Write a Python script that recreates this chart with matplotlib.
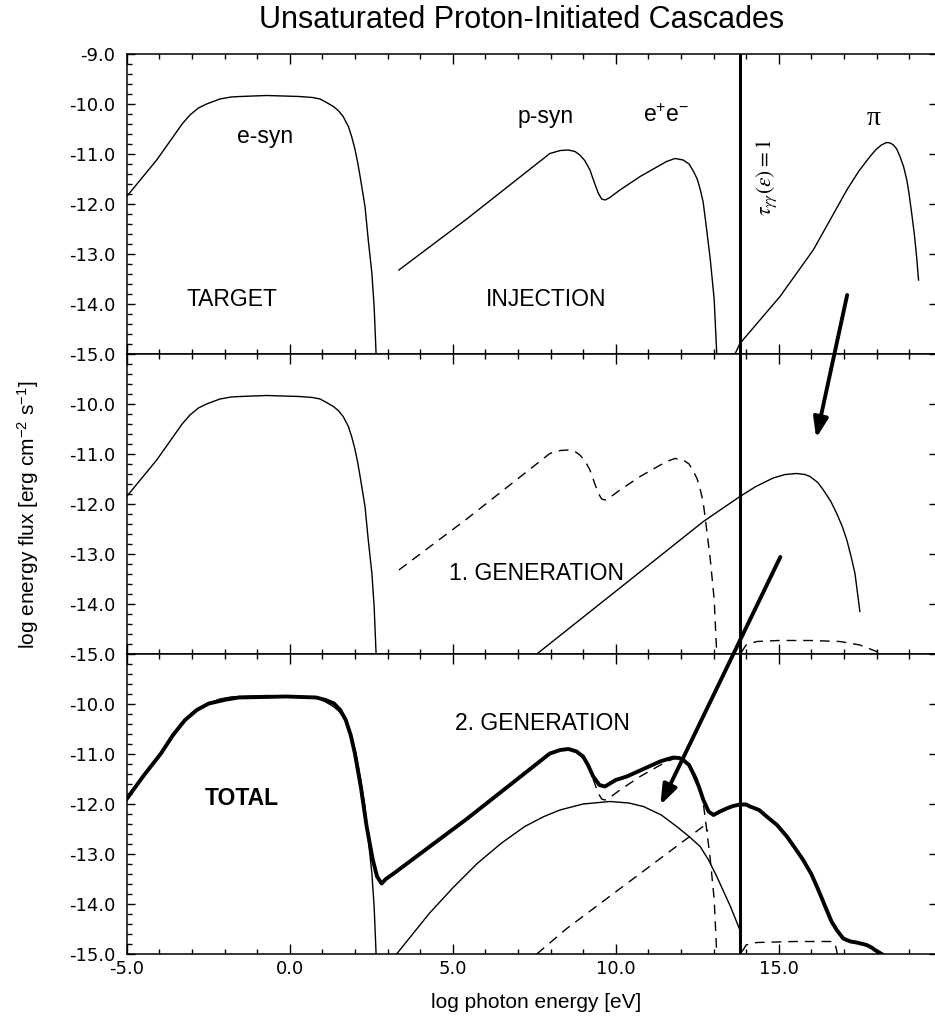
import matplotlib
matplotlib.use('Agg')
import matplotlib.pyplot as plt
from matplotlib.patches import ConnectionPatch
from matplotlib.ticker import MultipleLocator, FuncFormatter

plt.rcParams['font.family'] = ['Liberation Sans', 'DejaVu Sans']
plt.rcParams['mathtext.fontset'] = 'custom'
plt.rcParams['mathtext.rm'] = 'Liberation Sans'
plt.rcParams['mathtext.it'] = 'Liberation Sans:italic'
plt.rcParams['axes.unicode_minus'] = False

# electron synchrotron target photons (same in every panel)
esyn_x = [-5.0, -4.08, -3.57, -3.3, -3.06, -2.8, -2.55, -2.14, -1.8, -1.52, -0.71, 0.3,
          0.7, 0.93, 1.13, 1.34, 1.49, 1.64, 1.80, 1.90, 2.0, 2.08, 2.16, 2.31, 2.41,
          2.52, 2.59, 2.65]
esyn_y = [-11.85, -11.12, -10.65, -10.4, -10.22, -10.08, -10.0, -9.9, -9.86, -9.85, -9.83,
          -9.85, -9.87, -9.9, -9.97, -10.05, -10.13, -10.25, -10.45, -10.65, -10.9, -11.15,
          -11.45, -12.05, -12.72, -13.38, -14.05, -15.0]

# injection: proton synchrotron + pair production
inj_x = [3.35, 5.43, 7.98, 8.3, 8.55, 8.75, 8.9, 9.05, 9.21, 9.35, 9.47, 9.57, 9.67, 9.8,
         10.13, 10.75, 11.56, 11.82, 12.07, 12.25, 12.38, 12.5, 12.59, 12.68, 12.75, 12.9,
         13.02, 13.1]
inj_y = [-13.32, -12.3, -10.99, -10.93, -10.92, -10.95, -11.02, -11.13, -11.32, -11.58,
         -11.79, -11.9, -11.92, -11.88, -11.72, -11.45, -11.15, -11.09, -11.12, -11.2,
         -11.34, -11.5, -11.7, -11.95, -12.3, -13.1, -13.9, -15.0]

# pion decay injection
pi_x = [13.66, 13.81, 15.04, 16.06, 17.09, 17.45, 17.8, 18.0, 18.15, 18.31, 18.42, 18.52,
        18.62, 18.72, 18.83, 18.93, 19.0, 19.08, 19.16, 19.23, 19.29]
pi_y = [-15.0, -14.79, -13.85, -12.92, -11.72, -11.35, -11.05, -10.9, -10.82, -10.77,
        -10.78, -10.82, -10.9, -11.05, -11.25, -11.52, -11.8, -12.19, -12.6, -13.05, -13.52]

# 1. generation
gen1_x = [7.58, 10.34, 12.69, 13.81, 14.3, 14.83, 15.2, 15.55, 15.8, 15.96, 16.2, 16.37,
          16.6, 16.78, 16.95, 17.09, 17.22, 17.34, 17.49]
gen1_y = [-15.0, -13.57, -12.35, -11.85, -11.65, -11.48, -11.41, -11.39, -11.41, -11.45,
          -11.57, -11.72, -11.95, -12.19, -12.45, -12.72, -13.05, -13.39, -14.15]
pair1_x = [13.85, 14.0, 14.33, 15.0, 16.0, 16.88, 17.49, 18.0, 18.1]
pair1_y = [-14.97, -14.82, -14.75, -14.73, -14.73, -14.75, -14.82, -14.95, -15.0]

# 2. generation
gen1abs_x = [7.58, 8.5, 12.74, 12.82]
gen1abs_y = [-15.0, -14.49, -12.42, -12.55]
gen2_x = [3.28, 4.28, 5.0, 5.75, 6.5, 7.21, 7.8, 8.29, 9.0, 9.82, 10.4, 10.85, 11.4, 11.87,
          12.25, 12.59, 12.85, 13.1, 13.52, 13.81, 13.83]
gen2_y = [-15.0, -14.19, -13.68, -13.19, -12.78, -12.45, -12.25, -12.12, -12.0, -11.95,
          -11.98, -12.05, -12.22, -12.45, -12.65, -12.85, -13.12, -13.45, -14.05, -14.52,
          -15.0]
pair2_x = [13.88, 14.0, 14.33, 15.5, 16.68, 16.75, 16.8]
pair2_y = [-14.95, -14.82, -14.77, -14.75, -14.75, -14.85, -15.0]

total_x = [-5.0, -4.5, -3.95, -3.58, -3.21, -2.85, -2.48, -1.94, -1.57, -0.11, 0.81, 1.1,
           1.36, 1.55, 1.72, 1.87, 2.0, 2.18, 2.36, 2.55, 2.68, 2.82, 2.95, 3.19, 5.43,
           7.98, 8.3, 8.55, 8.8, 9.0, 9.15, 9.31, 9.5, 9.67, 10.0, 10.34, 11.36, 11.6,
           11.77, 11.95, 12.07, 12.25, 12.38, 12.55, 12.69, 12.85, 13.0, 13.2, 13.4, 13.6,
           13.81, 14.0, 14.12, 14.4, 14.63, 14.95, 15.25, 15.5, 15.75, 16.0, 16.17, 16.32,
           16.47, 16.62, 16.78, 16.98, 17.2, 17.39, 17.7, 17.85, 17.95, 18.16]
total_y = [-11.9, -11.45, -10.99, -10.62, -10.32, -10.12, -9.99, -9.91, -9.87, -9.85, -9.87,
           -9.92, -9.99, -10.12, -10.32, -10.62, -10.99, -11.65, -12.45, -13.12, -13.45,
           -13.59, -13.5, -13.39, -12.3, -10.99, -10.92, -10.9, -10.95, -11.05, -11.22,
           -11.45, -11.62, -11.65, -11.52, -11.45, -11.15, -11.1, -11.07, -11.08, -11.12,
           -11.22, -11.39, -11.65, -11.92, -12.15, -12.22, -12.15, -12.09, -12.04, -12.01,
           -12.01, -12.05, -12.12, -12.25, -12.42, -12.65, -12.88, -13.12, -13.4, -13.65,
           -13.88, -14.12, -14.35, -14.52, -14.69, -14.75, -14.77, -14.82, -14.87, -14.92,
           -15.0]

tau_one = 13.8

fig = plt.figure(figsize=(9.35, 10.18), dpi=100)
left = 126.7 / 935
width = 810 / 935
h = 300 / 1018
bottoms = [1 - 354 / 1018, 1 - 654 / 1018, 1 - 954 / 1018]
axes = [fig.add_axes([left, b, width, h]) for b in bottoms]

thin = dict(color='black', lw=1.0)
dash = dict(color='black', lw=1.0, ls=(0, (7, 5)))


def ylab(v, pos, top):
    if v > -9.05 and not top:
        return ''
    return '%.1f' % v


for i, ax in enumerate(axes):
    ax.set_xlim(-5, -5 + 810 / 32.6)
    ax.set_ylim(-15, -9)
    ax.xaxis.set_major_locator(MultipleLocator(5))
    ax.xaxis.set_minor_locator(MultipleLocator(1))
    ax.yaxis.set_major_locator(MultipleLocator(1))
    ax.yaxis.set_minor_locator(MultipleLocator(0.2))
    ax.tick_params(which='both', direction='in', top=True, right=True, width=1.0)
    ax.tick_params(axis='x', which='major', length=7.2, pad=4)
    ax.tick_params(axis='x', which='minor', length=3.6)
    ax.tick_params(axis='y', which='major', length=5.8, pad=8)
    ax.tick_params(axis='y', which='minor', length=3.6, right=False)
    ax.tick_params(labelsize=13)
    top = (i == 0)
    ax.yaxis.set_major_formatter(FuncFormatter(lambda v, p, t=top: ylab(v, p, t)))
    if i < 2:
        ax.tick_params(axis='x', labelbottom=False)
    else:
        ax.xaxis.set_major_formatter(FuncFormatter(lambda v, p: '%.1f' % (0.0 if abs(v) < 1e-9 else v)))
    for s in ax.spines.values():
        s.set_linewidth(1.1)
    ax.axvline(tau_one, color='black', lw=2.2)
    ax.plot(esyn_x, esyn_y, **thin)

for ax in axes:
    for lab in ax.get_xticklabels() + ax.get_yticklabels():
        lab.set_family('DejaVu Sans')

ax1, ax2, ax3 = axes

# top: injection
ax1.plot(inj_x, inj_y, **thin)
ax1.plot(pi_x, pi_y, **thin)
ax1.text(-0.75, -10.66, 'e-syn', fontsize=16.5, ha='center', va='center')
ax1.text(-1.78, -13.92, 'TARGET', fontsize=16.5, ha='center', va='center')
ax1.text(7.86, -10.24, 'p-syn', fontsize=16.5, ha='center', va='center')
ax1.text(11.56, -10.22, r'e$^{+}$e$^{-}$', fontsize=16.5, ha='center', va='center')
ax1.text(7.88, -13.92, 'INJECTION', fontsize=16.5, ha='center', va='center')
ax1.text(17.9, -10.29, 'π', fontsize=20, family='Liberation Serif', ha='center', va='center')
ax1.text(14.64, -11.46, r'$\tau_{\gamma\gamma}(\varepsilon)=1$', fontsize=15.5, rotation=90,
         ha='center', va='center', math_fontfamily='stix')

# middle: 1. generation
ax2.plot(inj_x, inj_y, **dash)
ax2.plot(gen1_x, gen1_y, **thin)
ax2.plot(pair1_x, pair1_y, **dash)
ax2.text(7.58, -13.39, '1. GENERATION', fontsize=16.5, ha='center', va='center')

# bottom: 2. generation and total
ax3.plot(inj_x, inj_y, **dash)
ax3.plot(gen1abs_x, gen1abs_y, **dash)
ax3.plot(gen2_x, gen2_y, **thin)
ax3.plot(pair2_x, pair2_y, **dash)
ax3.plot(total_x, total_y, color='black', lw=2.8, solid_joinstyle='round')
ax3.text(7.76, -10.39, '2. GENERATION', fontsize=16.5, ha='center', va='center')
ax3.text(-1.48, -11.89, 'TOTAL', fontsize=16.5, fontweight='bold', ha='center', va='center')

# arrows between panels
for (xa, ya, axa), (xb, yb, axb) in [((17.10, -13.82, ax1), (16.15, -10.68, ax2)),
                                     ((15.05, -13.06, ax2), (11.37, -12.02, ax3))]:
    con = ConnectionPatch(xyA=(xa, ya), coordsA=axa.transData,
                          xyB=(xb, yb), coordsB=axb.transData,
                          arrowstyle='-|>,head_length=0.6,head_width=0.22',
                          mutation_scale=20, lw=2.8, color='black')
    fig.add_artist(con)

fig.text(0.558, 1 - 20 / 1018, 'Unsaturated Proton-Initiated Cascades', fontsize=22,
         ha='center', va='center')
fig.text(0.573, 1 - 1002 / 1018, 'log photon energy [eV]', fontsize=15, ha='center', va='center')
fig.text(28 / 935, 1 - 515 / 1018, r'log energy flux [erg cm$^{-2}$ s$^{-1}$]', fontsize=15,
         rotation=90, ha='center', va='center')

fig.savefig('out.png', dpi=100)
